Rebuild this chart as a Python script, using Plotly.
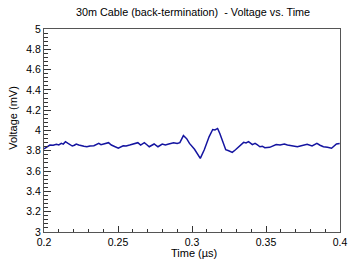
import plotly.graph_objects as go

time_us = [0.2000, 0.2018, 0.2040, 0.2062, 0.2084, 0.2100, 0.2117, 0.2130, 0.2145, 0.2160,
           0.2172, 0.2191, 0.2205, 0.2218, 0.2235, 0.2249, 0.2270,
           0.2290, 0.2310, 0.2337, 0.2355, 0.2370, 0.2385, 0.2403, 0.2420, 0.2436, 0.2455,
           0.2480, 0.2502, 0.2535, 0.2555, 0.2579, 0.2605, 0.2634,
           0.2653, 0.2678, 0.2695, 0.2711, 0.2744, 0.2770, 0.2799, 0.2820, 0.2843, 0.2860,
           0.2876, 0.2900, 0.2918, 0.2942,
           0.2964, 0.2983, 0.3017, 0.3056, 0.3083, 0.3116, 0.3140, 0.3155, 0.3173, 0.3188,
           0.3206, 0.3228, 0.3248, 0.3272, 0.3294, 0.3327, 0.3349, 0.3365, 0.3382, 0.3408,
           0.3426, 0.3440, 0.3459, 0.3475, 0.3492, 0.3525, 0.3545, 0.3569, 0.3595, 0.3624,
           0.3645, 0.3668, 0.3690, 0.3712, 0.3745, 0.3778, 0.3811, 0.3844,
           0.3865, 0.3888, 0.3915, 0.3943, 0.3976, 0.3998]
voltage_mv = [3.82, 3.84, 3.857, 3.855, 3.864, 3.858, 3.873, 3.866, 3.89, 3.875,
              3.867, 3.847, 3.855, 3.867, 3.858, 3.85, 3.845,
              3.84, 3.848, 3.85, 3.862, 3.873, 3.86, 3.867, 3.872, 3.88, 3.857,
              3.84, 3.825, 3.85, 3.848, 3.857, 3.866, 3.88,
              3.857, 3.88, 3.86, 3.84, 3.867, 3.84, 3.867, 3.858, 3.867, 3.875,
              3.88, 3.872, 3.88, 3.95,
              3.92, 3.873, 3.815, 3.726, 3.81, 3.94, 4.01, 4.005, 4.02, 3.97,
              3.89, 3.81, 3.80, 3.785, 3.81, 3.857, 3.883, 3.877, 3.89, 3.86,
              3.873, 3.86, 3.84, 3.845, 3.83, 3.834, 3.85, 3.862, 3.858, 3.867,
              3.858, 3.85, 3.845, 3.84, 3.852, 3.864, 3.847, 3.873,
              3.855, 3.84, 3.835, 3.825, 3.867, 3.873]

x_ticks = [0.2, 0.25, 0.3, 0.35, 0.4]
x_labels = ["0.2", "0.25", "0.3", "0.35", "0.4"]
y_ticks = [3, 3.2, 3.4, 3.6, 3.8, 4, 4.2, 4.4, 4.6, 4.8, 5]
y_labels = ["3", "3.2", "3.4", "3.6", "3.8", "4", "4.2", "4.4", "4.6", "4.8", "5"]

FONT = "Liberation Sans, Arial, sans-serif"

fig = go.Figure()
fig.add_trace(go.Scatter(x=time_us, y=voltage_mv, mode="lines",
                         line=dict(color="#1414a0", width=1.5), showlegend=False))

fig.update_layout(
    width=356, height=260,
    margin=dict(l=44, r=9, t=29, b=28),
    paper_bgcolor="white", plot_bgcolor="white",
    font=dict(family=FONT, size=10, color="black"),
    xaxis=dict(range=[0.2, 0.4], tickvals=x_ticks, ticktext=x_labels,
               ticks="inside", ticklen=6, tickcolor="#333", showgrid=False,
               zeroline=False, showline=True, linecolor="#555", linewidth=1, mirror=True,
               minor=dict(dtick=0.01, ticks="inside", ticklen=3, tickcolor="#333"),
               tickfont=dict(size=10.5)),
    yaxis=dict(range=[3, 5], tickvals=y_ticks, ticktext=y_labels,
               ticks="inside", ticklen=7, tickcolor="#333", showgrid=False,
               zeroline=False, showline=True, linecolor="#555", linewidth=1, mirror=True,
               minor=dict(dtick=0.04, ticks="inside", ticklen=4, tickcolor="#333"),
               tickfont=dict(size=10.5)),
    annotations=[
        dict(text="30m Cable (back-termination)  - Voltage vs. Time", xref="paper", yref="paper",
             x=(197 - 44) / 303, y=1 + (29 - 12) / 203, showarrow=False, font=dict(size=10.8),
             xanchor="center", yanchor="middle"),
        dict(text="Time (\u00b5s)", xref="paper", yref="paper",
             x=(198 - 44) / 303, y=-(253 - 232) / 203, showarrow=False, font=dict(size=11),
             xanchor="center", yanchor="middle"),
        dict(text="Voltage (mV)", xref="paper", yref="paper",
             x=-(44 - 12) / 303, y=(232 - 118) / 203, showarrow=False, font=dict(size=11),
             textangle=-90, xanchor="center", yanchor="middle"),
    ],
)

fig.write_html("out.html", config={"displayModeBar": False},
               post_script="document.body.style.margin='0';document.body.style.overflow='hidden';")
